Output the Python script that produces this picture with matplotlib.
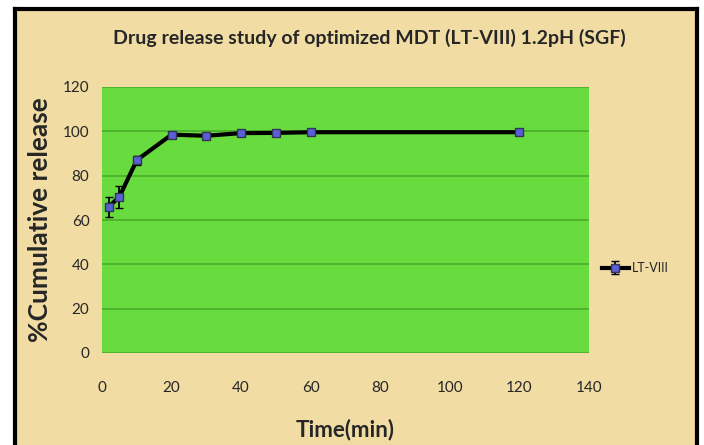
import matplotlib.pyplot as plt
from matplotlib.lines import Line2D

# release data, LT-VIII in 1.2pH (SGF)
time_min = [2, 5, 10, 20, 30, 40, 50, 60, 120]
release = [66.0, 70.5, 87.0, 98.5, 98.0, 99.2, 99.3, 99.6, 99.6]
err = [4.5, 5.0, 2.0, 1.0, 0.8, 0.8, 0.8, 0.8, 0.8]
xticks = [0, 20, 40, 60, 80, 100, 120, 140]
yticks = [0, 20, 40, 60, 80, 100, 120]

paper = '#f1dca3'
green = '#68dc3e'
grid_green = '#4fb22c'
txt = '#262626'

plt.rcParams['font.family'] = ['Lato', 'DejaVu Sans']

fig = plt.figure(figsize=(7.04, 4.45), dpi=100)
fig.patch.set_facecolor('white')

# parchment panel with black frame on left, top and right
W, H = 704, 445
bg = plt.Rectangle((15 / W, 0), (697 - 15) / W, 1 - 9 / H, transform=fig.transFigure,
                   facecolor=paper, edgecolor='none', zorder=0)
fig.add_artist(bg)
for xs, ys in [([15 / W, 15 / W], [0, 1 - 9 / H]),
               ([15 / W, 697 / W], [1 - 9 / H, 1 - 9 / H]),
               ([697 / W, 697 / W], [0, 1 - 9 / H])]:
    fig.add_artist(Line2D(xs, ys, transform=fig.transFigure, color='black', lw=3, zorder=1))

ax = fig.add_axes([102 / W, 1 - 353 / H, (589 - 102) / W, (353 - 87) / H])
ax.set_facecolor(green)
for s in ax.spines.values():
    s.set_visible(False)

ax.errorbar(time_min, release, yerr=err, color='black', lw=3, ecolor='black',
            elinewidth=1.3, capsize=3, capthick=1.3,
            marker='s', markersize=6, markerfacecolor='#5b5fd6',
            markeredgecolor='#333355', markeredgewidth=1, label='LT-VIII', zorder=3)

ax.set_xlim(0, 140)
ax.set_ylim(0, 120)
ax.set_xticks(xticks)
ax.set_yticks(yticks)
ax.yaxis.grid(True, color=grid_green, lw=1.4)
ax.set_axisbelow(True)
ax.tick_params(length=0, labelsize=11, labelcolor=txt)
ax.tick_params(axis='x', pad=20)
ax.tick_params(axis='y', pad=9)

ax.set_xlabel('Time(min)', fontsize=16, fontweight='bold', color=txt, labelpad=17)
ax.set_ylabel('%Cumulative release', fontsize=19, fontweight='bold', color=txt, labelpad=8)
fig.text(369 / W, 1 - 38 / H, 'Drug release study of optimized MDT (LT-VIII) 1.2pH (SGF)',
         ha='center', va='center', fontsize=14, fontweight='bold', color=txt)

leg = ax.legend(loc='center left', bbox_to_anchor=(1.0, 0.32), frameon=False,
                fontsize=9, handlelength=2.2, handletextpad=0.2, borderaxespad=0.6)
for t in leg.get_texts():
    t.set_color(txt)

fig.savefig('out.png', dpi=100)
